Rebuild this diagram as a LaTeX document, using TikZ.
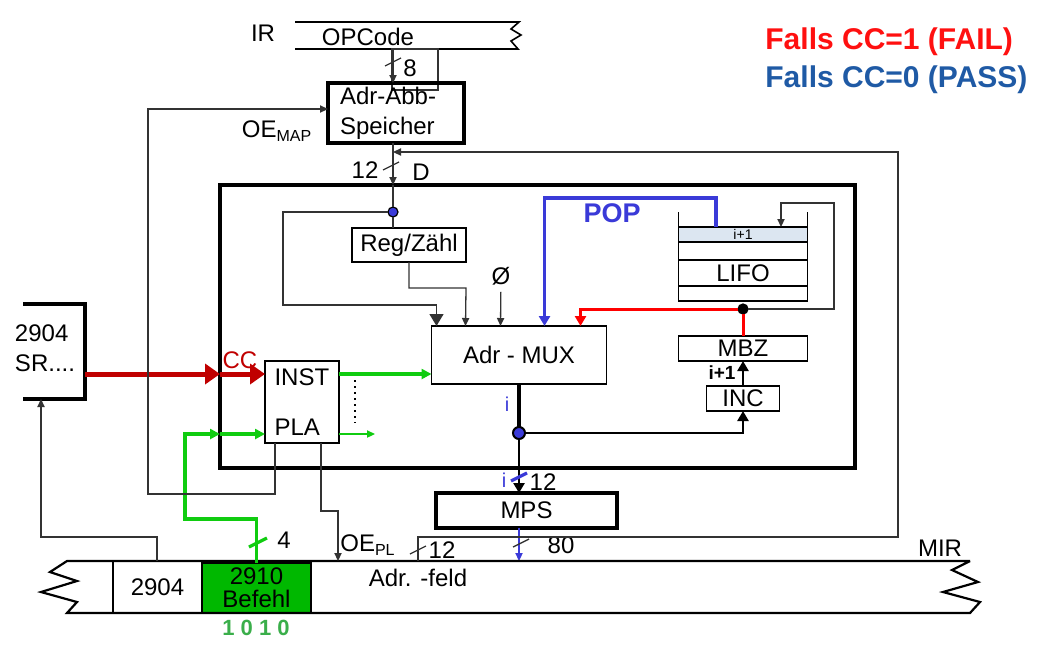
\documentclass[tikz,border=0pt]{standalone}
\usepackage{fontspec}
\setmainfont{Liberation Sans}
\usetikzlibrary{calc,positioning,arrows.meta}
\definecolor{linie}{HTML}{333333}
\definecolor{failrot}{HTML}{FF1010}
\definecolor{ccrot}{HTML}{C00000}
\definecolor{passblau}{HTML}{1F5AA5}
\definecolor{popblau}{HTML}{3A3AD8}
\definecolor{gruen}{HTML}{10CC10}
\definecolor{feld}{HTML}{00B800}
\definecolor{bits}{HTML}{3AAE4A}
\definecolor{hellblau}{HTML}{DCE6F1}

\begin{document}
\begin{tikzpicture}[x=0.5pt,y=-0.5pt, font=\fontsize{12}{15}\selectfont,
    blk/.style={draw, line width=0.8pt, inner sep=0pt, outer sep=0pt},
    dick/.style={draw, line width=1.8pt, inner sep=0pt, outer sep=0pt},
    ln/.style={draw=linie, line width=0.65pt},
    ar/.style={ln, -{Triangle[length=4pt,width=3.6pt]}},
    arT/.style={draw=black, line width=1.4pt, -{Triangle[length=5pt,width=5.5pt]}},
    grA/.style={draw=gruen, line width=1.6pt, -{Triangle[length=5pt,width=5pt]}},
    ccA/.style={draw=ccrot, line width=2.5pt, -{Triangle[length=7.5pt,width=10pt]}},
    pkt/.style={circle, draw=black, line width=0.6pt, inner sep=0pt, outer sep=0pt, minimum size=5pt}]
  \useasboundingbox (0,0) rectangle (1042,650);
  \node[anchor=west, inner sep=0pt, text=failrot, font=\fontsize{15}{17}\selectfont\bfseries] (fail) at (765,42) {Falls CC=1 (FAIL)};
  \node[anchor=west, inner sep=0pt, text=passblau, font=\fontsize{15}{17}\selectfont\bfseries] (pass) at (765,80) {Falls CC=0 (PASS)};
  \draw[line width=0.8pt] (295,22) -- (519,22) -- (511,29) -- (521,35) -- (511,41) -- (518,49) -- (295,49);
  \node (ir) at (263,33) {IR};
  \node (opc) at (368,37) {OPCode};
  \coordinate (irb) at (393,49);
  \draw[ln] (392,49) rectangle (438,90);
  \node[dick, minimum width=68pt, minimum height=30pt, align=left, text width=56pt] (spch) at (396,113) {Adr-Abb-\\Speicher};
  \draw[ar] (irb) -- (irb |- spch.north);
  \node (n8) at (410,68) {8};
  \node (oemap) at (277,131) {OE\textsubscript{MAP}};
  \node[draw, line width=2pt, outer sep=0pt, minimum width=317.5pt, minimum height=141.5pt] (hb) at (537.5,326.5) {};
  \node[minimum width=451.5pt, minimum height=26pt, inner sep=0pt, outer sep=0pt] (mir) at (518.5,587) {};
  \node[pkt, fill=popblau] (dot1) at (393,212) {};
  \draw[ar] (spch.south -| dot1) -- (dot1 |- hb.north);
  \draw[ln] (dot1 |- hb.north) -- (dot1);
  \node (n12a) at (365,170) {12};
  \node (nd) at (421,172) {D};
  \node[blk, minimum width=57pt, minimum height=17pt] (reg) at (409,245) {Reg/Zähl};
  \draw[ln] (dot1) -- (dot1 |- reg.north);
  \node[blk, line width=0.7pt, minimum width=87.5pt, minimum height=29pt] (mux) at (519,355) {Adr - MUX};
  \foreach \n/\dx in {m1/5,m2/34,m3/69,m4/113,m5/149} \coordinate (\n) at ($(mux.north west)+(\dx,0)$);
  \coordinate (k1) at (283,305);
  \draw[ln, -{Triangle[length=6pt,width=7pt]}] (dot1) -| (k1) -| (m1);
  \coordinate (k2) at (466,288);
  \draw[ar] (reg.south) |- (k2) -- (m2);
  \node (null) at (501,276) {Ø};
  \draw[ar] (null) -- (m3);
  \node[blk, fill=hellblau, minimum width=64.5pt, minimum height=7.5pt, font=\fontsize{7}{8}\selectfont] (l1) at (743,234.5) {i+1};
  \node[blk, minimum width=64.5pt, minimum height=9pt, below=0pt of l1] (l2) {};
  \node[blk, minimum width=64.5pt, minimum height=13pt, below=0pt of l2] (l3) {LIFO};
  \node[blk, minimum width=64.5pt, minimum height=7.5pt, below=0pt of l3] (l4) {};
  \draw[line width=0.8pt] (l1.north west) -- ++(0,-15) (l1.north east) -- ++(0,-15);
  \coordinate (p1) at (716,198);
  \draw[popblau, line width=1.6pt, -{Triangle[length=5pt,width=5.5pt]}] (p1 |- l1.north) -- (p1) -| (m4);
  \node[text=popblau, font=\fontsize{13.5}{15}\selectfont\bfseries] (pop) at (612,213) {POP};
  \node[blk, minimum width=64.5pt, minimum height=12.5pt] (mbz) at (743,348.5) {MBZ};
  \node[blk, minimum width=36.5pt, minimum height=12.5pt] (inc) at (743,398.5) {INC};
  \node[pkt, fill=black] (dot2) at (743,309) {};
  \coordinate (k3) at (834,203);
  \coordinate (fb) at ($(l1.north)+(38,0)$);
  \draw[ar] (dot2) -| (k3) -| (fb);
  \draw[red, line width=1.5pt, -{Triangle[length=5pt,width=5.5pt]}] (dot2) -| (m5);
  \draw[red, line width=1.5pt] (dot2) -- (dot2 |- mbz.north);
  \draw[arT] (inc.north) -- (mbz.south);
  \node[font=\fontsize{9.5}{10}\selectfont\bfseries] (ip1) at (722,373) {i+1};
  \node[pkt, fill=popblau, minimum size=6pt, line width=1pt] (dot3) at (519,433) {};
  \node[dick, minimum width=90.5pt, minimum height=17.5pt] (mps) at (526.5,510.5) {MPS};
  \draw[black, line width=1.6pt] (mux.south) -- (dot3);
  \draw[arT] (dot3) -| (inc.south);
  \draw[arT] (dot3) -- (dot3 |- mps.north);
  \node[text=popblau, font=\fontsize{10}{12}\selectfont] (i1) at (507,404) {i};
  \draw[popblau, line width=1.6pt] (511,481) -- (527,473);
  \node[text=popblau, font=\fontsize{10}{12}\selectfont] (i2) at (504,480) {i};
  \node (n12b) at (543,482) {12};
  \draw[popblau, line width=0.7pt, -{Triangle[length=4pt,width=3.6pt]}] (dot3 |- mps.south) -- (dot3 |- mir.north);
  \node (n80) at (561,545) {80};
  \foreach \x/\y in {393/62, 391/166, 418/550, 521/543} \draw[ln] (\x-8,\y+4) -- (\x+8,\y-4);
  \draw[line width=1.6pt] (23,304) -| (85,399) -- (23,399);
  \node[align=left] (sr) at (45,348) {2904\\SR....};
  \coordinate (srout) at (85,374);
  \coordinate (srin) at (41,399);
  \node[blk, line width=0.7pt, minimum width=37pt, minimum height=41pt, align=left, text width=27.5pt] (pla) at (302,402) {INST\\[10pt]PLA};
  \coordinate (pi1) at ($(pla.north west)+(0,13)$);
  \coordinate (pi2) at ($(pla.north west)+(0,73)$);
  \coordinate (po1) at ($(pla.north east)+(0,13)$);
  \coordinate (po2) at ($(pla.north east)+(0,73)$);
  \draw[ccA] (srout) -- (srout -| hb.west);
  \draw[ccA] (srout -| hb.west) -- (pi1);
  \node[text=ccrot] (cc) at (240,360) {CC};
  \draw[grA] (po1) -- (po1 -| mux.west);
  \coordinate (gr3) at ($(po2)+(36,0)$);
  \draw[gruen, line width=0.7pt, -{Triangle[length=4pt,width=3.6pt]}] (po2) -- (gr3);
  \draw[dotted, line width=1pt] ($(pla.north east)+(16,19)$) -- ++(0,43);
  \node[draw, line width=0.6pt, minimum width=44.5pt, minimum height=26pt, inner sep=0pt, outer sep=0pt] (f04) at (157.5,587) {2904};
  \node[draw, line width=1.4pt, fill=feld, minimum width=54.5pt, minimum height=25pt, inner sep=0pt, outer sep=0pt, align=center, font=\fontsize{12}{11.5}\selectfont] (bf) at (256.5,588) {2910\\Befehl};
  \draw[line width=1.1pt] (mir.north east) -- (mir.north west) -- ++(-17,11) -- ++(27,9) -- ++(-36,11) -- ++(36,10) -- ++(-10,11) -- (mir.south east) -- ++(10,-11) -- ++(-37,-10) -- ++(35,-10) -- ++(-26,-12) -- ++(18,-9);
  \node[text=bits, font=\fontsize{11}{12}\selectfont\bfseries] (bits) at (256,628) {1 0 1 0};
  \node (af) at (418,578) {Adr. -feld};
  \node (mirl) at (940,548) {MIR};
  \coordinate (g1) at (185,519);
  \draw[grA] (bf.north) |- (g1) |- (pi2 -| hb.west);
  \draw[grA] (pi2 -| hb.west) -- (pi2);
  \draw[gruen, line width=1.6pt] (249,547) -- (267,538);
  \node (n4) at (284,540) {4};
  \coordinate (pl2) at ($(pla.south east)+(-18,0)$);
  \coordinate (o1) at (338,511);
  \draw[ar] (pl2) |- (o1) -- (o1 |- mir.north);
  \node (oepl) at (368,545) {OE\textsubscript{PL}};
  \coordinate (pl1) at ($(pla.south west)+(10,0)$);
  \coordinate (k5) at (148,494);
  \coordinate (sw) at ($(spch.west)+(0,-4)$);
  \draw[ar] (pl1) |- (k5) |- (sw);
  \coordinate (s1) at (157,537);
  \draw[ar] (s1 |- mir.north) -- (s1) -| (srin);
  \coordinate (a1) at (418,537);
  \coordinate (a2) at (898,152);
  \draw[ar] (a1 |- mir.north) -- (a1) -| (a2) -- (a2 -| dot1);
  \node (n12c) at (442,550) {12};
\end{tikzpicture}
\end{document}
